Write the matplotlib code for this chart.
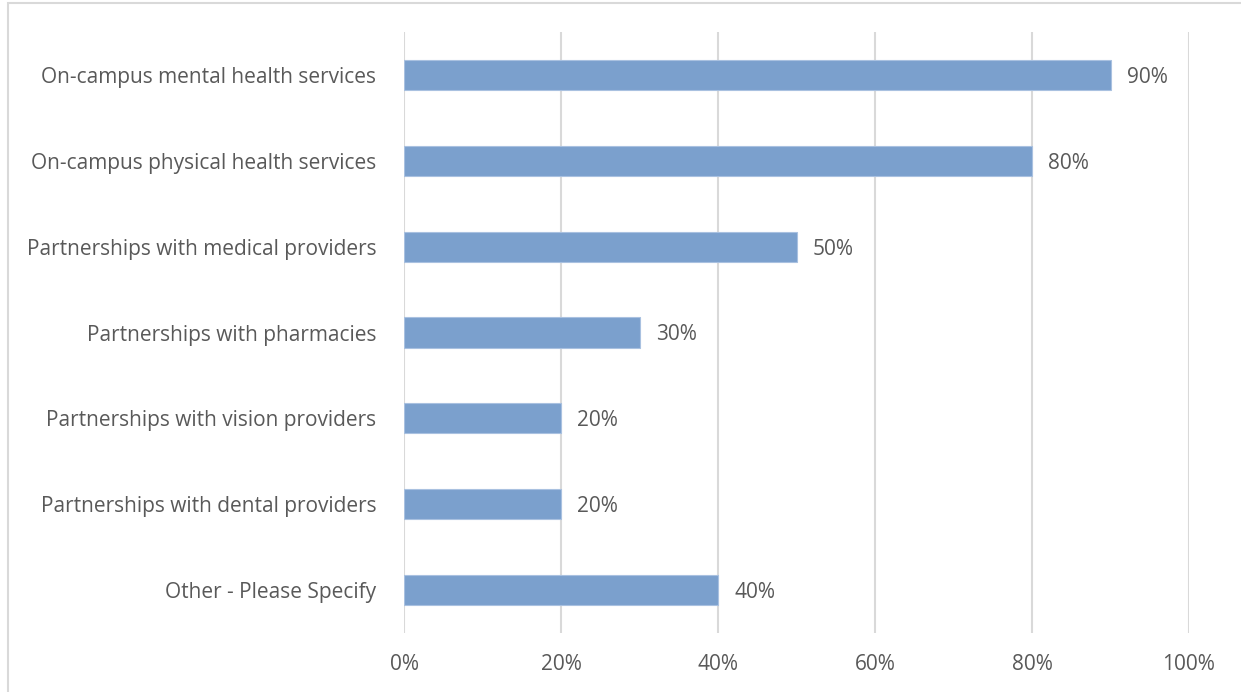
import matplotlib.pyplot as plt
from matplotlib.patches import Rectangle
from matplotlib.ticker import FuncFormatter

categorias = [
    "On-campus mental health services",
    "On-campus physical health services",
    "Partnerships with medical providers",
    "Partnerships with pharmacies",
    "Partnerships with vision providers",
    "Partnerships with dental providers",
    "Other - Please Specify",
]
porcentajes = [90, 80, 50, 30, 20, 20, 40]
ticks_x = [0, 20, 40, 60, 80, 100]

plt.rcParams['font.family'] = ['Open Sans', 'DejaVu Sans']
gris = "#595959"

fig = plt.figure(figsize=(12.41, 6.92), dpi=100)
ax = fig.add_axes([404 / 1241, 1 - 633 / 692, (1189 - 404) / 1241, 601 / 692])

# marco exterior del grafico
fig.patches.append(Rectangle((8 / 1241, -0.1), 1.1, 1 - 3 / 692 + 0.1,
                             transform=fig.transFigure, fill=False,
                             edgecolor="#d9d9d9", linewidth=1.5))

pos = list(range(len(categorias)))
ax.barh(pos, porcentajes, height=0.35, color="#7ba0cd", edgecolor="#a9c1e0",
        linewidth=0.8, zorder=3)

for y, v in zip(pos, porcentajes):
    ax.text(v + 2.1, y, f"{v}%", va="center_baseline", ha="left",
            fontsize=15, color=gris)

ax.set_xlim(0, 100)
ax.set_ylim(len(categorias) - 0.5, -0.5)
ax.set_xticks(ticks_x)
ax.xaxis.set_major_formatter(FuncFormatter(lambda x, _: f"{x:.0f}%"))
ax.set_yticks(pos)
ax.set_yticklabels(categorias)
ax.tick_params(axis="both", length=0, labelsize=15, labelcolor=gris)
ax.tick_params(axis="x", pad=15)
ax.tick_params(axis="y", pad=20)
ax.grid(axis="x", color="#d9d9d9", linewidth=1.5, zorder=0)
for s in ax.spines.values():
    s.set_visible(False)

fig.savefig("out.png", dpi=100)
